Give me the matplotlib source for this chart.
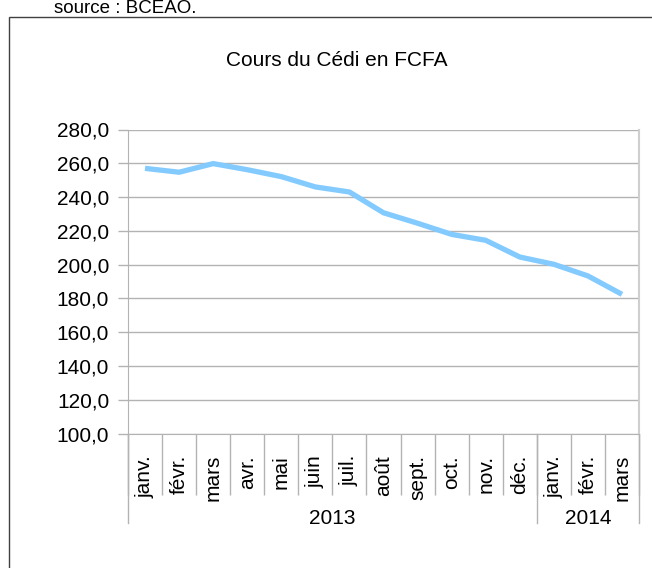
import numpy as np
import matplotlib
matplotlib.use("Agg")
import matplotlib.pyplot as plt
import matplotlib.patches as patches
import matplotlib.transforms as mtransforms
from matplotlib.ticker import FuncFormatter

plt.rcParams['font.family'] = ['Liberation Sans', 'DejaVu Sans']

# donnees
mois = ["janv.", "févr.", "mars", "avr.", "mai", "juin", "juil.", "août",
        "sept.", "oct.", "nov.", "déc.", "janv.", "févr.", "mars"]
annees = ["2013", "2014"]
nb_mois = [12, 3]
cours = [257.0, 254.7, 259.8, 256.2, 252.1, 246.0, 243.0, 230.7,
         224.5, 217.9, 214.4, 204.5, 200.2, 193.3, 182.4]
yticks = np.arange(100, 281, 20)

GRIS = "#b3b3b3"
W, H = 652, 568

fig = plt.figure(figsize=(W / 100, H / 100), dpi=100)

# cadre exterieur
cadre = patches.Rectangle((9 / W, -0.1), 1.2, 1.1 - 17.5 / H,
                          transform=fig.transFigure, fill=False,
                          edgecolor="#404040", lw=1.0, clip_on=False)
fig.patches.append(cadre)
fig.text(54 / W, 1 - 12.7 / H, "source : BCEAO.", fontsize=13.5,
         va="baseline", ha="left")
fig.text(337 / W, 1 - 61 / H, "Cours du Cédi en FCFA", fontsize=15,
         va="center", ha="center")

ax = fig.add_axes([128 / W, 1 - 433.5 / H, (639 - 128) / W, (433.5 - 129.5) / H])
x = np.arange(len(cours)) + 0.5
ax.plot(x, cours, color="#83caff", lw=3.8, solid_capstyle="butt",
        solid_joinstyle="miter", zorder=3)

ax.set_xlim(0, len(cours))
ax.set_ylim(100, 280)
ax.set_yticks(yticks)
ax.yaxis.set_major_formatter(FuncFormatter(lambda v, p: f"{v:.1f}".replace(".", ",")))
ax.grid(axis="y", color=GRIS, lw=1.0)
ax.set_axisbelow(True)
ax.tick_params(axis="y", length=7, width=1.0, color=GRIS, pad=6.5,
               labelsize=15)

for s in ["top"]:
    ax.spines[s].set_visible(False)
ax.spines["left"].set_color(GRIS)
ax.spines["bottom"].set_color(GRIS)
ax.spines["right"].set_color("#cfcfcf")
ax.spines["right"].set_linewidth(1.5)

# etiquettes des mois
ax.set_xticks(x)
ax.set_xticklabels(mois, rotation=90, fontsize=15)
ax.tick_params(axis="x", which="major", length=0, pad=15.5)
ax.set_xticks(np.arange(len(cours) + 1), minor=True)
ax.tick_params(axis="x", which="minor", length=44, width=1.0, color=GRIS,
               direction="out")

# separateurs des annees
trans = mtransforms.blended_transform_factory(ax.transData, ax.transAxes)
bornes = np.concatenate([[0], np.cumsum(nb_mois)])
for b in bornes:
    ax.plot([b, b], [0, -0.294], transform=trans, color=GRIS, lw=1.0,
            clip_on=False)
for i, a in enumerate(annees):
    ax.text((bornes[i] + bornes[i + 1]) / 2, -0.279, a, transform=trans,
            ha="center", va="center", fontsize=15)

fig.savefig("out.png", dpi=100)
